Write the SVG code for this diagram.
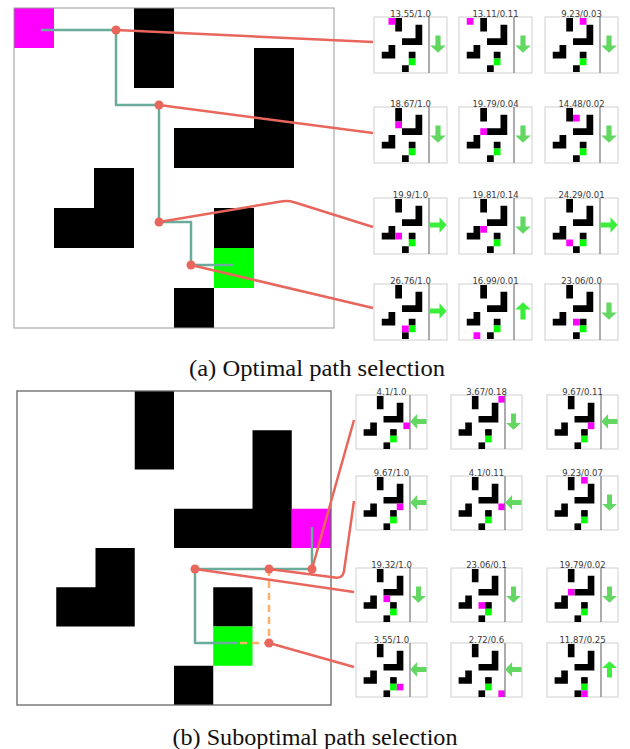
<svg xmlns="http://www.w3.org/2000/svg" width="630" height="749" viewBox="0 0 630 749">
<style>
.bk{fill:#000}
.gn{fill:#00ff00}
.ag{fill:#ff00ff}
.tb{fill:#fff;stroke:#cfcfcf;stroke-width:1}
.dv{stroke:#808080;stroke-width:1.3}
.lab{font-family:"DejaVu Sans",sans-serif;font-size:8.5px;fill:#3a3a3a;text-anchor:middle}
.aL{fill:#62d862}
.aB{fill:#3bee3b}
.tp{fill:none;stroke:#6aab9c;stroke-width:2.5;stroke-linejoin:round}
.rl{fill:none;stroke:#e8665c;stroke-width:2.5;stroke-linejoin:round}
.rd{fill:#e8665c}
.od{fill:none;stroke:#fdae6b;stroke-width:2.5;stroke-dasharray:7 5}
.cap{font-family:"Liberation Serif",serif;font-size:23px;fill:#111;text-anchor:middle}
</style>
<defs>
<g id="map">
<rect class="bk" x="3" y="0" width="1" height="2"/>
<path class="bk" d="M6,1H7V4H4V3H6Z"/>
<path class="bk" d="M2,4H3V6H1V5H2Z"/>
<rect class="bk" x="5" y="5" width="1" height="1"/>
<rect class="bk" x="4" y="7" width="1" height="1"/>
<rect class="gn" x="5" y="6" width="1" height="1"/>
</g>
<path id="ad" d="M-2.6,-8.5H2.6V1.5H7.8L0,8.7L-7.8,1.5H-2.6Z"/>
</defs>
<rect width="630" height="749" fill="#fff"/>

<!-- Top grid -->
<g id="grid-a">
<g transform="translate(14,8) scale(40)"><use href="#map"/><rect class="ag" x="0" y="0" width="1" height="1"/></g>
<rect x="14" y="8" width="320" height="320" fill="none" stroke="#9a9a9a" stroke-width="1"/>
<path class="tp" d="M41,30H116V105H159V222H191V265H233"/>
</g>

<!-- Bottom grid -->
<g id="grid-b">
<g transform="translate(17,391) scale(39.25)"><use href="#map"/><rect class="ag" x="7" y="3" width="1" height="1"/></g>
<rect x="17" y="391" width="314" height="314" fill="none" stroke="#666" stroke-width="1.3"/>
<path class="tp" d="M312,527V569H195V643H237"/>
<path class="od" d="M269,569V643H237"/>
</g>

<!-- Top thumbnails -->
<g id="ta11" transform="translate(374,17)"><rect class="tb" width="73" height="56"/><g transform="translate(1,1) scale(6.75)"><use href="#map"/><rect class="ag" x="2" y="0" width="1" height="1"/></g><line class="dv" x1="55" y1="0" x2="55" y2="56"/><use href="#ad" class="aL" transform="translate(64,27)"/><text class="lab" x="36.5" y="-0.5">13.55/1.0</text></g>
<g id="ta12" transform="translate(459,17)"><rect class="tb" width="73" height="56"/><g transform="translate(1,1) scale(6.75)"><use href="#map"/><rect class="ag" x="1" y="0" width="1" height="1"/></g><line class="dv" x1="55" y1="0" x2="55" y2="56"/><use href="#ad" class="aL" transform="translate(64,27)"/><text class="lab" x="36.5" y="-0.5">13.11/0.11</text></g>
<g id="ta13" transform="translate(545,17)"><rect class="tb" width="73" height="56"/><g transform="translate(1,1) scale(6.75)"><use href="#map"/><rect class="ag" x="5" y="0" width="1" height="1"/></g><line class="dv" x1="55" y1="0" x2="55" y2="56"/><use href="#ad" class="aL" transform="translate(64,27)"/><text class="lab" x="36.5" y="-0.5">9.23/0.03</text></g>

<g id="ta21" transform="translate(374,107)"><rect class="tb" width="73" height="56"/><g transform="translate(1,1) scale(6.75)"><use href="#map"/><rect class="ag" x="3" y="2" width="1" height="1"/></g><line class="dv" x1="55" y1="0" x2="55" y2="56"/><use href="#ad" class="aL" transform="translate(64,27)"/><text class="lab" x="36.5" y="-0.5">18.67/1.0</text></g>
<g id="ta22" transform="translate(459,107)"><rect class="tb" width="73" height="56"/><g transform="translate(1,1) scale(6.75)"><use href="#map"/><rect class="ag" x="3" y="3" width="1" height="1"/></g><line class="dv" x1="55" y1="0" x2="55" y2="56"/><use href="#ad" class="aL" transform="translate(64,27)"/><text class="lab" x="36.5" y="-0.5">19.79/0.04</text></g>
<g id="ta23" transform="translate(545,107)"><rect class="tb" width="73" height="56"/><g transform="translate(1,1) scale(6.75)"><use href="#map"/><rect class="ag" x="4" y="1" width="1" height="1"/></g><line class="dv" x1="55" y1="0" x2="55" y2="56"/><use href="#ad" class="aL" transform="translate(64,27)"/><text class="lab" x="36.5" y="-0.5">14.48/0.02</text></g>

<g id="ta31" transform="translate(374,198)"><rect class="tb" width="73" height="56"/><g transform="translate(1,1) scale(6.75)"><use href="#map"/><rect class="ag" x="3" y="5" width="1" height="1"/></g><line class="dv" x1="55" y1="0" x2="55" y2="56"/><use href="#ad" class="aB" transform="translate(64,27) rotate(-90)"/><text class="lab" x="36.5" y="-0.5">19.9/1.0</text></g>
<g id="ta32" transform="translate(459,198)"><rect class="tb" width="73" height="56"/><g transform="translate(1,1) scale(6.75)"><use href="#map"/><rect class="ag" x="3" y="4" width="1" height="1"/></g><line class="dv" x1="55" y1="0" x2="55" y2="56"/><use href="#ad" class="aL" transform="translate(64,27)"/><text class="lab" x="36.5" y="-0.5">19.81/0.14</text></g>
<g id="ta33" transform="translate(545,198)"><rect class="tb" width="73" height="56"/><g transform="translate(1,1) scale(6.75)"><use href="#map"/><rect class="ag" x="3" y="6" width="1" height="1"/></g><line class="dv" x1="55" y1="0" x2="55" y2="56"/><use href="#ad" class="aB" transform="translate(64,27) rotate(-90)"/><text class="lab" x="36.5" y="-0.5">24.29/0.01</text></g>

<g id="ta41" transform="translate(374,284)"><rect class="tb" width="73" height="56"/><g transform="translate(1,1) scale(6.75)"><use href="#map"/><rect class="ag" x="4" y="6" width="1" height="1"/></g><line class="dv" x1="55" y1="0" x2="55" y2="56"/><use href="#ad" class="aB" transform="translate(64,27) rotate(-90)"/><text class="lab" x="36.5" y="-0.5">26.76/1.0</text></g>
<g id="ta42" transform="translate(459,284)"><rect class="tb" width="73" height="56"/><g transform="translate(1,1) scale(6.75)"><use href="#map"/><rect class="ag" x="2" y="7" width="1" height="1"/></g><line class="dv" x1="55" y1="0" x2="55" y2="56"/><use href="#ad" class="aB" transform="translate(64,27) rotate(180)"/><text class="lab" x="36.5" y="-0.5">16.99/0.01</text></g>
<g id="ta43" transform="translate(545,284)"><rect class="tb" width="73" height="56"/><g transform="translate(1,1) scale(6.75)"><use href="#map"/><rect class="ag" x="4" y="5" width="1" height="1"/></g><line class="dv" x1="55" y1="0" x2="55" y2="56"/><use href="#ad" class="aL" transform="translate(64,27)"/><text class="lab" x="36.5" y="-0.5">23.06/0.0</text></g>

<!-- Bottom thumbnails -->
<g id="tb11" transform="translate(356,395)"><rect class="tb" width="71" height="54"/><g transform="translate(1,1) scale(6.625)"><use href="#map"/><rect class="ag" x="7" y="4" width="1" height="1"/></g><line class="dv" x1="54" y1="0" x2="54" y2="54"/><use href="#ad" class="aL" transform="translate(62.5,26.5) rotate(90) scale(0.95)"/><text class="lab" x="35.5" y="-0.5">4.1/1.0</text></g>
<g id="tb12" transform="translate(451,395)"><rect class="tb" width="71" height="54"/><g transform="translate(1,1) scale(6.625)"><use href="#map"/><rect class="ag" x="7" y="0" width="1" height="1"/></g><line class="dv" x1="54" y1="0" x2="54" y2="54"/><use href="#ad" class="aL" transform="translate(62.5,26.5) scale(0.95)"/><text class="lab" x="35.5" y="-0.5">3.67/0.18</text></g>
<g id="tb13" transform="translate(547,395)"><rect class="tb" width="71" height="54"/><g transform="translate(1,1) scale(6.625)"><use href="#map"/><rect class="ag" x="6" y="4" width="1" height="1"/></g><line class="dv" x1="54" y1="0" x2="54" y2="54"/><use href="#ad" class="aL" transform="translate(62.5,26.5) rotate(90) scale(0.95)"/><text class="lab" x="35.5" y="-0.5">9.67/0.11</text></g>

<g id="tb21" transform="translate(356,476)"><rect class="tb" width="71" height="54"/><g transform="translate(1,1) scale(6.625)"><use href="#map"/><rect class="ag" x="6" y="4" width="1" height="1"/></g><line class="dv" x1="54" y1="0" x2="54" y2="54"/><use href="#ad" class="aL" transform="translate(62.5,26.5) rotate(90) scale(0.95)"/><text class="lab" x="35.5" y="-0.5">9.67/1.0</text></g>
<g id="tb22" transform="translate(451,476)"><rect class="tb" width="71" height="54"/><g transform="translate(1,1) scale(6.625)"><use href="#map"/><rect class="ag" x="7" y="4" width="1" height="1"/></g><line class="dv" x1="54" y1="0" x2="54" y2="54"/><use href="#ad" class="aL" transform="translate(62.5,26.5) rotate(90) scale(0.95)"/><text class="lab" x="35.5" y="-0.5">4.1/0.11</text></g>
<g id="tb23" transform="translate(547,476)"><rect class="tb" width="71" height="54"/><g transform="translate(1,1) scale(6.625)"><use href="#map"/><rect class="ag" x="5" y="0" width="1" height="1"/></g><line class="dv" x1="54" y1="0" x2="54" y2="54"/><use href="#ad" class="aL" transform="translate(62.5,26.5) scale(0.95)"/><text class="lab" x="35.5" y="-0.5">9.23/0.07</text></g>

<g id="tb31" transform="translate(356,568)"><rect class="tb" width="71" height="54"/><g transform="translate(1,1) scale(6.625)"><use href="#map"/><rect class="ag" x="4" y="4" width="1" height="1"/></g><line class="dv" x1="54" y1="0" x2="54" y2="54"/><use href="#ad" class="aL" transform="translate(62.5,26.5) scale(0.95)"/><text class="lab" x="35.5" y="-0.5">19.32/1.0</text></g>
<g id="tb32" transform="translate(451,568)"><rect class="tb" width="71" height="54"/><g transform="translate(1,1) scale(6.625)"><use href="#map"/><rect class="ag" x="4" y="5" width="1" height="1"/></g><line class="dv" x1="54" y1="0" x2="54" y2="54"/><use href="#ad" class="aL" transform="translate(62.5,26.5) scale(0.95)"/><text class="lab" x="35.5" y="-0.5">23.06/0.1</text></g>
<g id="tb33" transform="translate(547,568)"><rect class="tb" width="71" height="54"/><g transform="translate(1,1) scale(6.625)"><use href="#map"/><rect class="ag" x="3" y="3" width="1" height="1"/></g><line class="dv" x1="54" y1="0" x2="54" y2="54"/><use href="#ad" class="aL" transform="translate(62.5,26.5) scale(0.95)"/><text class="lab" x="35.5" y="-0.5">19.79/0.02</text></g>

<g id="tb41" transform="translate(356,643)"><rect class="tb" width="71" height="54"/><g transform="translate(1,1) scale(6.625)"><use href="#map"/><rect class="ag" x="6" y="6" width="1" height="1"/></g><line class="dv" x1="54" y1="0" x2="54" y2="54"/><use href="#ad" class="aL" transform="translate(62.5,26.5) rotate(90) scale(0.95)"/><text class="lab" x="35.5" y="-0.5">3.55/1.0</text></g>
<g id="tb42" transform="translate(451,643)"><rect class="tb" width="71" height="54"/><g transform="translate(1,1) scale(6.625)"><use href="#map"/><rect class="ag" x="7" y="7" width="1" height="1"/></g><line class="dv" x1="54" y1="0" x2="54" y2="54"/><use href="#ad" class="aL" transform="translate(62.5,26.5) rotate(90) scale(0.95)"/><text class="lab" x="35.5" y="-0.5">2.72/0.6</text></g>
<g id="tb43" transform="translate(547,643)"><rect class="tb" width="71" height="54"/><g transform="translate(1,1) scale(6.625)"><use href="#map"/><rect class="ag" x="5" y="7" width="1" height="1"/></g><line class="dv" x1="54" y1="0" x2="54" y2="54"/><use href="#ad" class="aB" transform="translate(62.5,26.5) rotate(180) scale(0.95)"/><text class="lab" x="35.5" y="-0.5">11.87/0.25</text></g>

<!-- Connectors -->
<g id="connectors">
<path class="rl" d="M116,30L373,42"/>
<path class="rl" d="M159,105L373,133"/>
<path class="rl" d="M159,222L281,201.5Q288,200.3 295,202.5L373,227"/>
<path class="rl" d="M191,265L373,308"/>
<circle class="rd" cx="116" cy="30" r="4.5"/>
<circle class="rd" cx="159" cy="105" r="4.5"/>
<circle class="rd" cx="159" cy="222" r="4.5"/>
<circle class="rd" cx="191" cy="265" r="4.5"/>
<path class="rl" d="M312,569L354,420"/>
<path class="rl" d="M269,569L335,577.6Q343,578.7 344,571L354,501"/>
<path class="rl" d="M195,569L354,592"/>
<path class="rl" d="M269,643L354,667"/>
<circle class="rd" cx="312" cy="569" r="4.5"/>
<circle class="rd" cx="269" cy="569" r="4.5"/>
<circle class="rd" cx="195" cy="569" r="4.5"/>
<circle class="rd" cx="269" cy="643" r="4.5"/>
</g>

<text class="cap" x="317" y="376" textLength="256" lengthAdjust="spacingAndGlyphs">(a) Optimal path selection</text>
<text class="cap" x="315" y="745" textLength="285" lengthAdjust="spacingAndGlyphs">(b) Suboptimal path selection</text>
</svg>
